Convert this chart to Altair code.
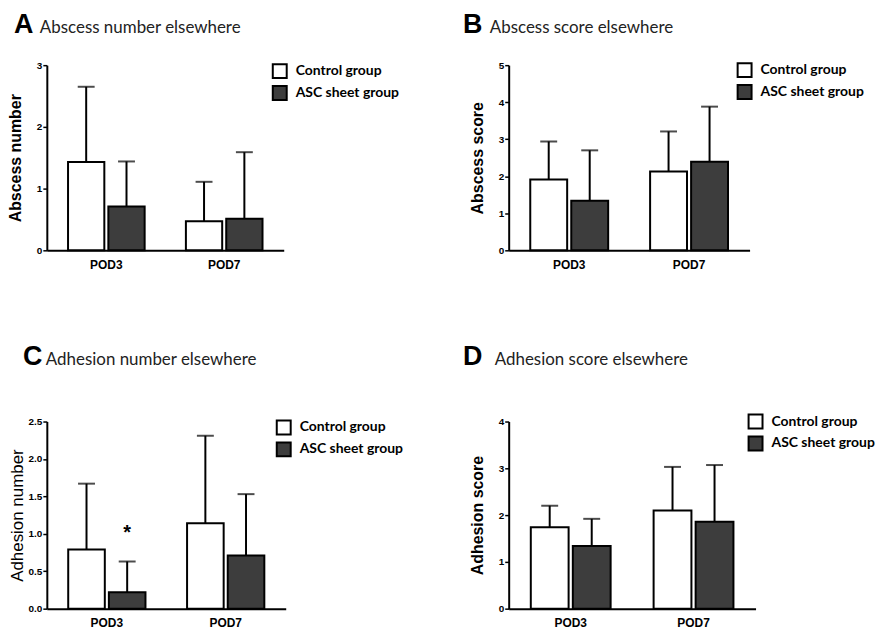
import altair as alt
import pandas as pd

times = ["POD3", "POD7"]
groups = ["Control group", "ASC sheet group"]
colors = ["#ffffff", "#3d3d3d"]

letters = ["A", "B", "C", "D"]
headings = ["Abscess number elsewhere", "Abscess score elsewhere",
            "Adhesion number elsewhere", "Adhesion score elsewhere"]
y_titles = ["Abscess number", "Abscess score", "Adhesion number", "Adhesion score"]

# means and mean+SD (upper end of error bar), per time point [POD3, POD7]
a_ctrl_mean = [1.43, 0.47]
a_ctrl_upper = [2.65, 1.11]
a_asc_mean = [0.71, 0.51]
a_asc_upper = [1.44, 1.59]

b_ctrl_mean = [1.91, 2.13]
b_ctrl_upper = [2.94, 3.21]
b_asc_mean = [1.34, 2.39]
b_asc_upper = [2.70, 3.88]

c_ctrl_mean = [0.79, 1.14]
c_ctrl_upper = [1.67, 2.31]
c_asc_mean = [0.22, 0.71]
c_asc_upper = [0.63, 1.53]

d_ctrl_mean = [1.74, 2.10]
d_ctrl_upper = [2.20, 3.03]
d_asc_mean = [1.34, 1.86]
d_asc_upper = [1.92, 3.07]

y_max = [3, 5, 2.5, 4]
y_ticks = [[0, 1, 2, 3], [0, 1, 2, 3, 4, 5], [0, 0.5, 1.0, 1.5, 2.0, 2.5], [0, 1, 2, 3, 4]]
y_formats = ["d", "d", ".1f", "d"]

# significance marker in panel C
star_time = ["POD3"]
star_group = ["ASC sheet group"]
star_value = [1.08]
star_text = ["*"]

BOLD_FONT = "Liberation Sans"
HEAD_FONT = "Lato"


def make_df(cm, cu, am, au):
    rows = []
    for i, t in enumerate(times):
        rows.append({"time": t, "group": groups[0], "mean": cm[i], "upper": cu[i]})
        rows.append({"time": t, "group": groups[1], "mean": am[i], "upper": au[i]})
    return pd.DataFrame(rows)


def panel(idx, df, width, height, legend_xy, letter_xy, head_xy,
          ytitle_size, ytitle_weight, ytitle_x, star_df=None):
    ymax = y_max[idx]
    yscale = alt.Scale(domain=[0, ymax], nice=False, zero=True)

    def yaxis():
        return alt.Axis(
            values=y_ticks[idx], format=y_formats[idx], title=y_titles[idx],
            grid=False, domainColor="black", domainWidth=2, tickColor="black",
            tickWidth=1.5, tickSize=4, labelFont=BOLD_FONT, labelFontWeight="bold",
            labelFontSize=10, labelColor="black", labelPadding=1, labelOverlap=False,
            titleFont=BOLD_FONT, titleFontWeight=ytitle_weight, titleFontSize=ytitle_size,
            titleColor="black", titleX=ytitle_x,
        )

    xenc = alt.X(
        "time:N", sort=times,
        scale=alt.Scale(paddingInner=0.35, paddingOuter=0.18),
        axis=alt.Axis(title=None, labelAngle=0, ticks=False, domainColor="black",
                      domainWidth=2, labelFont=BOLD_FONT, labelFontWeight="bold",
                      labelFontSize=12, labelColor="black", labelPadding=9, grid=False),
    )
    xoff = alt.XOffset("group:N", sort=groups, scale=alt.Scale(paddingInner=0.1, paddingOuter=0))

    base = alt.Chart(df).encode(x=xenc, xOffset=xoff)
    bars = base.mark_bar(stroke="black", strokeWidth=2).encode(
        y=alt.Y("mean:Q", scale=yscale, axis=yaxis(), title=y_titles[idx]),
        fill=alt.Fill(
            "group:N", sort=groups,
            scale=alt.Scale(domain=groups, range=colors),
            legend=alt.Legend(
                title=None, orient="none", legendX=legend_xy[0], legendY=legend_xy[1],
                symbolType="square", symbolSize=196, symbolStrokeColor="black",
                symbolStrokeWidth=2, labelFont=HEAD_FONT, labelFontWeight="bold",
                labelFontSize=14, labelColor="black", labelOffset=8, rowPadding=0,
                padding=0, symbolOpacity=1,
            ),
        ),
    )
    rules = base.mark_rule(color="black", strokeWidth=2).encode(
        y=alt.Y("mean:Q", scale=yscale, axis=yaxis(), title=y_titles[idx]), y2="upper:Q"
    )
    caps = base.mark_tick(color="black", thickness=2, size=17).encode(
        y=alt.Y("upper:Q", scale=yscale, axis=yaxis(), title=y_titles[idx])
    )

    head_df = pd.DataFrame({"letter": [letters[idx]], "heading": [headings[idx]]})
    hbase = alt.Chart(head_df)
    letter_mark = hbase.mark_text(
        align="left", baseline="alphabetic", font=BOLD_FONT, fontWeight="bold",
        fontSize=27, color="black"
    ).encode(x=alt.value(letter_xy[0]), y=alt.value(letter_xy[1]), text="letter:N")
    head_mark = hbase.mark_text(
        align="left", baseline="alphabetic", font=HEAD_FONT, fontSize=17, color="#222222"
    ).encode(x=alt.value(head_xy[0]), y=alt.value(head_xy[1]), text="heading:N")

    layers = [bars, rules, caps]
    if star_df is not None:
        star = alt.Chart(star_df).mark_text(
            font=BOLD_FONT, fontWeight="bold", fontSize=20, baseline="alphabetic",
            dy=11, color="black"
        ).encode(
            x=alt.X("time:N", sort=times), xOffset=alt.XOffset("group:N", sort=groups),
            y=alt.Y("value:Q", scale=yscale, axis=yaxis(), title=y_titles[idx]),
            text="text:N"
        )
        layers.append(star)
    layers += [letter_mark, head_mark]
    return alt.layer(*layers).properties(width=width, height=height)


star_df = pd.DataFrame({"time": star_time, "group": star_group,
                        "value": star_value, "text": star_text})

pA = panel(0, make_df(a_ctrl_mean, a_ctrl_upper, a_asc_mean, a_asc_upper),
           238, 186, (226, -2), (-33, -32), (-7, -32), 16, "bold", -23)
pB = panel(1, make_df(b_ctrl_mean, b_ctrl_upper, b_asc_mean, b_asc_upper),
           242, 186, (229, -3), (-46, -32), (-19, -32), 16, "bold", -23)
pC = panel(2, make_df(c_ctrl_mean, c_ctrl_upper, c_asc_mean, c_asc_upper),
           240, 188, (230, -2), (-24, -57), (-1, -57), 17, "normal", -20, star_df)
pD = panel(3, make_df(d_ctrl_mean, d_ctrl_upper, d_asc_mean, d_asc_upper),
           248, 188, (240, -8), (-46, -57), (-14, -57), 16, "bold", -23)

chart = alt.concat(
    pA, pB, pC, pD, columns=2, spacing={"row": 172, "column": 224}, bounds="flush"
).resolve_scale(
    x="independent", y="independent", fill="independent", xOffset="independent"
).resolve_legend(fill="independent").configure_view(stroke=None).properties(
    padding={"left": 0, "top": 2, "right": 0, "bottom": 0},
    background="white",
)

chart.save("out.html", embed_options={"renderer": "svg", "actions": False})
